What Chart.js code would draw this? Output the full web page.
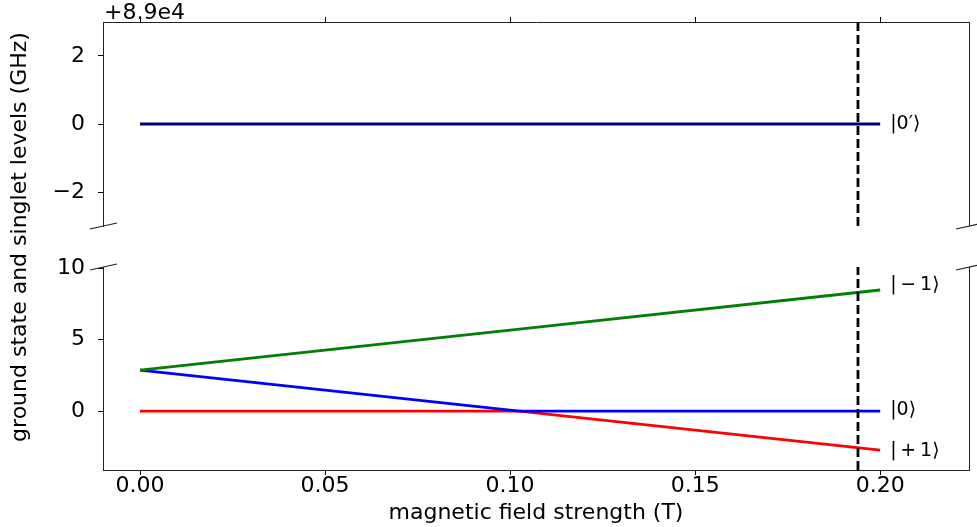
<!DOCTYPE html>
<html>
<head>
    <meta charset='utf-8'>
    <title>niveles NV</title>
    <script src="https://cdn.jsdelivr.net/npm/chart.js@4.4.1/dist/chart.umd.min.js"></script>
    <style>
        body { margin: 0; background: #fff; }
        #wrap { position: relative; width: 977px; height: 527px; }
        #wrap canvas { position: absolute; left: 0; top: 0; }
    </style>
</head>
<body>
    <div id="wrap">
        <canvas id="canvasTop" width="977" height="527"></canvas>
        <canvas id="canvasBottom" width="977" height="527"></canvas>
    </div>

<script>
    // data
    var field = [0, 0.1025, 0.2];           // T
    var levelMinus1 = [2.87, 5.74, 8.47];   // GHz
    var level0 = [2.87, 0, 0];
    var levelPlus1 = [0, 0, -2.73];
    var singletField = [0, 0.2];
    var singletLevel = [89000, 89000];
    var markerField = 0.194;
    var offsetTop = 89000;

    var xRange = [-0.01, 0.224];
    var yRangeTop = [88997, 89003];
    var yRangeBottom = [-4.12, 10.08];
    var xTicks = [0, 0.05, 0.10, 0.15, 0.20];
    var yTicksTop = [88998, 89000, 89002];
    var yTicksBottom = [0, 5, 10];

    var ketNames = ['|0\u2032\u27E9', '|\u2009\u2212\u20091\u27E9', '|0\u27E9', '|\u2009+\u20091\u27E9'];
    var ketY = [89000, 8.8, 0.1, -2.8];
    var ketX = 0.2027;

    var FONT = "'DejaVu Sans'";

    function pts(xs, ys) {
        return xs.map(function (x, i) { return { x: x, y: ys[i] }; });
    }
    function minus(s) { return String(s).replace('-', '\u2212'); }

    // shared axis helpers
    function xAxis(pos) {
        return {
            type: 'linear', position: pos, min: xRange[0], max: xRange[1],
            afterBuildTicks: function (s) { s.ticks = xTicks.map(function (v) { return { value: v }; }); },
            grid: { drawOnChartArea: false, drawTicks: true, tickLength: 5, tickColor: '#000', tickWidth: 1 },
            border: { display: true, color: '#222', width: 1 },
            ticks: {
                display: pos === 'bottom', color: '#000', padding: -2, maxRotation: 0,
                font: { family: FONT, size: 22 },
                callback: function (v) { return v.toFixed(2); }
            }
        };
    }
    function yAxis(range, ticks, fmt) {
        return {
            type: 'linear', min: range[0], max: range[1],
            afterBuildTicks: function (s) { s.ticks = ticks.map(function (v) { return { value: v }; }); },
            afterFit: function (s) { s.width = 103; s.paddingTop = 0; s.paddingBottom = 0; },
            grid: { drawOnChartArea: false, drawTicks: true, tickLength: 5, tickColor: '#000', tickWidth: 1 },
            border: { display: true, color: '#222', width: 1 },
            ticks: { color: '#000', padding: 13, font: { family: FONT, size: 22 }, callback: fmt }
        };
    }

    // right spine + break marks
    function frame(ctx, area, edge) {
        ctx.save();
        ctx.strokeStyle = '#222';
        ctx.lineWidth = 1;
        ctx.beginPath();
        ctx.moveTo(area.right + 0.5, area.top);
        ctx.lineTo(area.right + 0.5, area.bottom);
        ctx.stroke();
        ctx.lineWidth = 1.2;
        [area.left, area.right].forEach(function (x) {
            ctx.beginPath();
            ctx.moveTo(x - 13, edge + 3);
            ctx.lineTo(x + 14, edge - 3);
            ctx.stroke();
        });
        ctx.restore();
    }

    function drawKet(chart, i) {
        var c = chart.ctx;
        c.save();
        c.fillStyle = '#000';
        c.font = '19px ' + FONT;
        c.textAlign = 'left';
        c.textBaseline = 'middle';
        c.fillText(ketNames[i], chart.scales.x.getPixelForValue(ketX), chart.scales.y.getPixelForValue(ketY[i]));
        c.restore();
    }

    var topDeco = {
        id: 'topDeco',
        afterDraw: function (chart) {
            var c = chart.ctx, a = chart.chartArea;
            frame(c, a, a.bottom);
            drawKet(chart, 0);
            c.save();
            c.fillStyle = '#000';
            c.font = '22px ' + FONT;
            c.textAlign = 'left';
            c.textBaseline = 'alphabetic';
            c.fillText('+8.9e4', a.left + 1, 19);
            // shared y label
            c.translate(20, 237);
            c.rotate(-Math.PI / 2);
            c.textAlign = 'center';
            c.textBaseline = 'middle';
            c.font = '22px ' + FONT;
            c.fillText('ground state and singlet levels (GHz)', 0, 0);
            c.restore();
        }
    };

    var bottomDeco = {
        id: 'bottomDeco',
        afterDraw: function (chart) {
            var a = chart.chartArea;
            frame(chart.ctx, a, a.top);
            drawKet(chart, 1);
            drawKet(chart, 2);
            drawKet(chart, 3);
        }
    };

    var lineBase = { fill: false, pointRadius: 0, tension: 0, borderWidth: 2.8, order: 1 };

    function dashed(range) {
        return { data: pts([markerField, markerField], range), borderColor: '#000', borderWidth: 2.8,
                 borderDash: [9, 4], pointRadius: 0, fill: false, order: 0 };
    }

    var topX = xAxis('top');
    topX.afterFit = function (s) { s.height = 5; };

    new Chart(document.getElementById('canvasTop').getContext('2d'), {
        type: 'line',
        data: {
            datasets: [
                Object.assign({ data: pts(singletField, singletLevel), borderColor: '#000080' }, lineBase),
                dashed(yRangeTop)
            ]
        },
        options: {
            responsive: false, animation: false, events: [],
            layout: { padding: { top: 17, bottom: 301, left: 0, right: 8 } },
            plugins: { legend: { display: false }, tooltip: { enabled: false } },
            scales: {
                x: topX,
                y: yAxis(yRangeTop, yTicksTop, function (v) { return minus(Math.round(v - offsetTop)); })
            }
        },
        plugins: [topDeco]
    });

    var botX = xAxis('bottom');
    botX.afterFit = function (s) { s.height = 57; };
    botX.title = { display: true, text: 'magnetic field strength (T)', color: '#000',
                   font: { family: FONT, size: 22 }, padding: { top: 0, bottom: 1 } };

    new Chart(document.getElementById('canvasBottom').getContext('2d'), {
        type: 'line',
        data: {
            datasets: [
                Object.assign({ data: pts(field, levelMinus1), borderColor: '#008000' }, lineBase),
                Object.assign({ data: pts(field, level0), borderColor: '#0000ff' }, lineBase),
                Object.assign({ data: pts(field, levelPlus1), borderColor: '#ff0000' }, lineBase),
                dashed(yRangeBottom)
            ]
        },
        options: {
            responsive: false, animation: false, events: [],
            layout: { padding: { top: 267, bottom: 0, left: 0, right: 8 } },
            plugins: { legend: { display: false }, tooltip: { enabled: false } },
            scales: {
                x: botX,
                y: yAxis(yRangeBottom, yTicksBottom, function (v) { return minus(v); })
            }
        },
        plugins: [bottomDeco]
    });
</script>
</body>
</html>
